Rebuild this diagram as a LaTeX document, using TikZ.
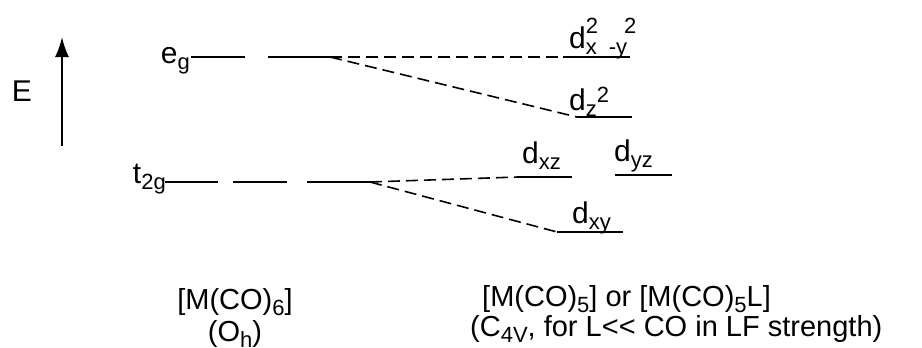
\documentclass[tikz,border=0pt]{standalone}
\usepackage{fontspec}
\setmainfont{Liberation Sans}
\usetikzlibrary{arrows.meta}
\newcommand\smallt[1]{{\fontsize{22}{22}\selectfont #1}}
\newcommand\mysub[1]{\raisebox{-6pt}{\smallt{#1}}}
\newcommand\myup[2]{\raisebox{#1}{\smallt{#2}}}
\begin{document}
\begin{tikzpicture}[x=1pt,y=-1pt,
  font=\fontsize{30}{30}\selectfont,
  lvl/.style={line width=2pt},
  corr/.style={line width=1.6pt, dash pattern=on 12pt off 6pt},
  lbl/.style={inner sep=0pt, anchor=base west},
  bot/.style={inner sep=0pt, font=\fontsize{29}{30}\selectfont}]
\useasboundingbox (0,0) rectangle (922,348);
% energy axis
\node[inner sep=0pt] (E) at (22,91) {E};
\coordinate (Abot) at (62,146);
\coordinate (Atop) at (62,37);
\draw[line width=2pt, -{Latex[length=20pt,width=14pt]}] (Abot) -- (Atop);
% e_g level (two degenerate segments)
\node[lbl, anchor=base east] (Leg) at (190,63) {e\mysub{g}};
\coordinate (eg1a) at (191,57); \coordinate (eg1b) at (245,57);
\coordinate (eg2a) at (268,57); \coordinate (eg2b) at (330,57);
\draw[lvl] (eg1a) -- (eg1b);
\draw[lvl] (eg2a) -- (eg2b);
% t2g level (three degenerate segments)
\node[lbl, anchor=base east] (Lt) at (166,183) {t\mysub{2g}};
\coordinate (t1a) at (165,182); \coordinate (t1b) at (218,182);
\coordinate (t2a) at (233,182); \coordinate (t2b) at (287,182);
\coordinate (t3a) at (307,182); \coordinate (t3b) at (370,182);
\draw[lvl] (t1a) -- (t1b);
\draw[lvl] (t2a) -- (t2b);
\draw[lvl] (t3a) -- (t3b);
% right-hand levels
\coordinate (xya) at (563,57); \coordinate (xyb) at (630,57);
\coordinate (z2a) at (577,117); \coordinate (z2b) at (632,117);
\coordinate (xza) at (518,177); \coordinate (xzb) at (572,177);
\coordinate (yza) at (615,175); \coordinate (yzb) at (672,175);
\coordinate (dxya) at (557,232); \coordinate (dxyb) at (623,232);
\draw[lvl] (xya) -- (xyb);
\draw[lvl] (z2a) -- (z2b);
\draw[lvl] (xza) -- (xzb);
\draw[lvl] (yza) -- (yzb);
\draw[lvl] (dxya) -- (dxyb);
% correlation lines
\draw[corr] (eg2b) -- (xya);
\draw[corr] (eg2b) -- (z2a);
\draw[corr] (t3b) -- (xza);
\draw[corr] (t3b) -- (dxya);
% labels of the right-hand levels
\node[lbl] (Ldx) at (569,48) {d\rlap{\myup{14pt}{2}}\mysub{x}\hspace{12pt}\mysub{-y}\hspace{-3pt}\myup{14pt}{2}};
\node[lbl] (Ldz) at (569,110) {d\mysub{z}\myup{8pt}{2}};
\node[lbl] (Ldxz) at (522,163) {d\mysub{xz}};
\node[lbl] (Ldyz) at (614,161) {d\mysub{yz}};
\node[lbl] (Ldxy) at (572,223) {d\mysub{xy}};
% bottom captions
\node[bot, anchor=base] (Moh) at (235,309) {[M(CO)\mysub{6}]};
\node[bot, anchor=base] (Oh) at (235,341) {(O\mysub{h})};
\node[bot, anchor=base west] (M5) at (482,306) {[M(CO)\mysub{5}] or [M(CO)\mysub{5}L]};
\node[bot, anchor=base west] (C4v) at (470,336) {(C\mysub{4V}, for L\textless{}\textless{} CO in LF strength)};
\end{tikzpicture}
\end{document}
